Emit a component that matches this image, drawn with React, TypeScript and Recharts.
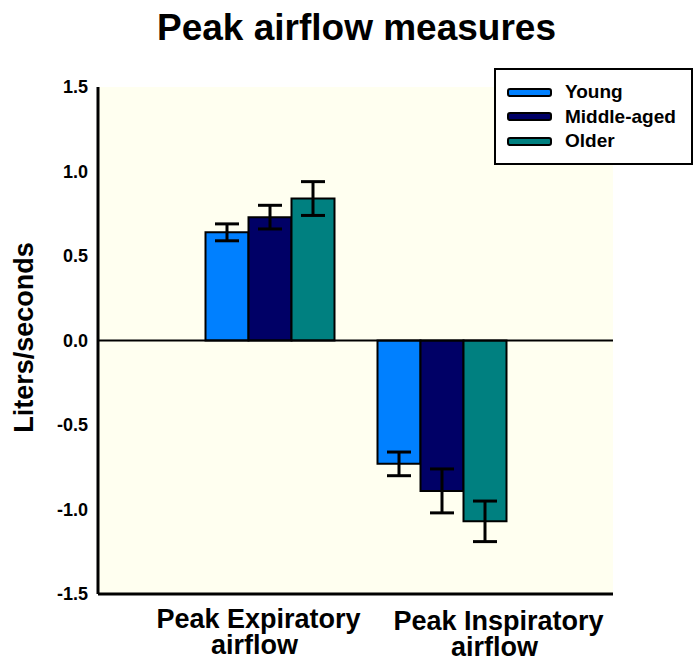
import {
  BarChart,
  Bar,
  XAxis,
  YAxis,
  CartesianGrid,
  ReferenceLine,
  ErrorBar,
  Legend,
} from "recharts";

const categories = ["Peak Expiratory airflow", "Peak Inspiratory airflow"];
const young = [0.64, -0.73];
const youngErr = [0.05, 0.07];
const middleAged = [0.73, -0.89];
const middleAgedErr = [0.07, 0.13];
const older = [0.84, -1.07];
const olderErr = [0.1, 0.12];
const yTicks = [-1.5, -1.0, -0.5, 0, 0.5, 1.0, 1.5];

const series = [
  { key: "young", err: "youngErr", name: "Young", color: "#0080FF" },
  { key: "middle", err: "middleErr", name: "Middle-aged", color: "#000066" },
  { key: "older", err: "olderErr", name: "Older", color: "#008080" },
];

const data = categories.map((name, i) => ({
  name,
  young: young[i],
  youngErr: youngErr[i],
  middle: middleAged[i],
  middleErr: middleAgedErr[i],
  older: older[i],
  olderErr: olderErr[i],
}));

const FONT = "'Liberation Sans', Arial, sans-serif";

// labels in the original sit a bit off the bar groups
function CategoryTick(props: any) {
  const { x, y, payload, index } = props;
  const words = String(payload.value).split(" ");
  const line1 = words.slice(0, 2).join(" ");
  const line2 = words.slice(2).join(" ");
  const dx = index === 1 ? 57 : -11;
  const dy = index === 1 ? 2 : 0;
  return (
    <g transform={`translate(${x + dx},${y + dy})`}>
      <text textAnchor="middle" fontFamily={FONT} fontWeight="bold" fontSize={27} fill="#000">
        <tspan x={0} y={26}>{line1}</tspan>
        <tspan x={-4} y={52}>{line2}</tspan>
      </text>
    </g>
  );
}

function LegendBox() {
  return (
    <div
      style={{
        width: 199,
        height: 97,
        border: "2px solid #000",
        background: "#fff",
        boxSizing: "border-box",
        paddingTop: 10,
        paddingLeft: 11,
      }}
    >
      {series.map((s) => (
        <div key={s.key} style={{ display: "flex", alignItems: "center", height: 24.5 }}>
          <div
            style={{
              width: 45,
              height: 9,
              background: s.color,
              border: "2px solid #000",
              borderRadius: 3,
              boxSizing: "border-box",
              marginRight: 13,
            }}
          />
          <span style={{ fontFamily: FONT, fontWeight: "bold", fontSize: 19, color: "#000" }}>
            {s.name}
          </span>
        </div>
      ))}
    </div>
  );
}

export default function App() {
  return (
    <div style={{ position: "absolute", left: 0, top: 0, width: 694, height: 660, background: "#fff" }}>
      <div
        style={{
          position: "absolute",
          left: 0,
          top: 7,
          width: 713,
          textAlign: "center",
          fontFamily: FONT,
          fontWeight: "bold",
          fontSize: 37,
        }}
      >
        Peak airflow measures
      </div>
      <BarChart
        width={694}
        height={660}
        data={data}
        margin={{ top: 87, right: 81, bottom: 0, left: 38 }}
        barGap={0}
        barSize={43}
      >
        <CartesianGrid fill="#FFFFF0" stroke="none" horizontal={false} vertical={false} />
        <XAxis
          dataKey="name"
          height={66}
          padding={{ left: 85.5, right: 85.5 }}
          axisLine={{ stroke: "#000", strokeWidth: 3 }}
          tickLine={false}
          tick={<CategoryTick />}
          interval={0}
        />
        <YAxis
          width={60}
          domain={[-1.5, 1.5]}
          ticks={yTicks}
          tickFormatter={(v: number) => v.toFixed(1)}
          axisLine={{ stroke: "#000", strokeWidth: 3 }}
          tickLine={false}
          tick={{ fontFamily: FONT, fontWeight: "bold", fontSize: 18, fill: "#000" }}
          tickMargin={4}
          label={{
            value: "Liters/seconds",
            angle: -90,
            position: "insideLeft",
            dx: -20,
            dy: -3,
            style: { fontFamily: FONT, fontWeight: "bold", fontSize: 27, fill: "#000", textAnchor: "middle" },
          }}
        />
        <ReferenceLine y={0} stroke="#000" strokeWidth={2} />
        {series.map((s) => (
          <Bar
            key={s.key}
            dataKey={s.key}
            name={s.name}
            fill={s.color}
            stroke="#000"
            strokeWidth={2}
            isAnimationActive={false}
          >
            <ErrorBar dataKey={s.err} width={12} stroke="#000" strokeWidth={3} />
          </Bar>
        ))}
        <Legend
          layout="vertical"
          align="center"
          verticalAlign="middle"
          wrapperStyle={{ left: 494, top: 68, width: 199 }}
          content={() => <LegendBox />}
        />
      </BarChart>
    </div>
  );
}
